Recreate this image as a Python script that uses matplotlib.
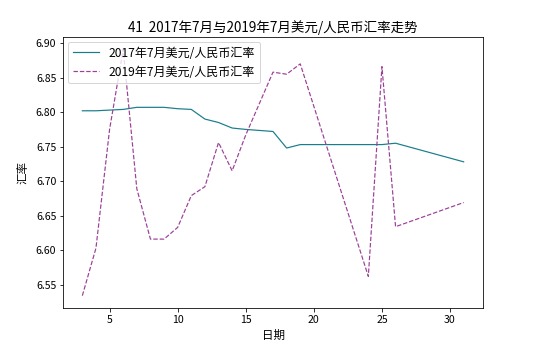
import matplotlib
matplotlib.use("Agg")
import matplotlib.pyplot as plt

plt.rcParams['font.family'] = ['Noto Sans CJK SC', 'DejaVu Sans']
plt.rcParams['axes.unicode_minus'] = False

days = [3, 4, 5, 6, 7, 8, 9, 10, 11, 12, 13, 14, 15, 17, 18, 19, 24, 25, 26, 31]
rate_2017 = [6.802, 6.802, 6.803, 6.804, 6.807, 6.807, 6.807, 6.805, 6.804, 6.790,
             6.785, 6.777, 6.775, 6.772, 6.748, 6.753, 6.753, 6.753, 6.755, 6.728]
rate_2019 = [6.534, 6.603, 6.775, 6.891, 6.689, 6.616, 6.616, 6.633, 6.679, 6.692,
             6.756, 6.715, 6.767, 6.858, 6.855, 6.870, 6.562, 6.866, 6.634, 6.669]

label_2017 = '2017年7月美元/人民币汇率'
label_2019 = '2019年7月美元/人民币汇率'
title = '41  2017年7月与2019年7月美元/人民币汇率走势'

fig = plt.figure(figsize=(560 / 72, 353 / 72), dpi=72)
ax = fig.add_axes([0.113, 0.1275, 0.749, 0.7675])

ax.plot(days, rate_2017, color='#1a7d8c', linewidth=1.2, label=label_2017)
ax.plot(days, rate_2019, color='#9c4198', linewidth=1.2, linestyle='--', label=label_2019)

ax.set_title(title, fontsize=13.5, pad=5)
ax.set_xlabel('日期', fontsize=11.5)
ax.set_ylabel('汇率', fontsize=11.5, labelpad=6)
ax.tick_params(labelsize=10.5)
ax.legend(loc='upper left', fontsize=12, borderaxespad=0.4, handlelength=2.2)

fig.savefig('out.png', dpi=72)
